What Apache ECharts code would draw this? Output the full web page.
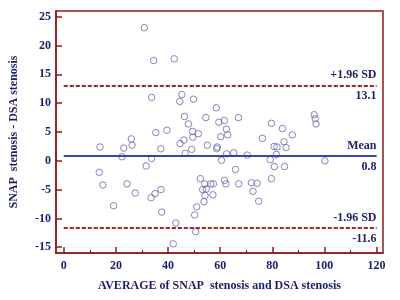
<!DOCTYPE html>
<html>
<head>
<meta charset="utf-8">
<script src="https://cdn.jsdelivr.net/npm/echarts@6/dist/echarts.min.js"></script>
<style>
  html, body { margin: 0; padding: 0; background: #fff; }
  #chart { width: 400px; height: 300px; }
</style>
</head>
<body>
<div id="chart"></div>
<script>
// average of the two methods (x) and their difference (y)
var avgVals = [30.9,34.5,42.4,33.7,45.3,49.8,44.5,58.5,46.3,54.5,67.0,47.8,59.5,61.6,62.4,49.4,51.6,49.5,60.2,62.9,
  39.6,35.3,46.1,44.6,55.1,58.9,58.7,37.2,49.1,46.6,62.5,65.2,70.4,60.5,65.9,25.9,26.2,13.9,23.0,22.3,
  33.7,31.6,13.6,15.0,19.1,24.3,27.4,33.5,35.0,37.3,37.6,43.0,42.0,50.2,50.6,51.0,52.4,54.1,56.4,57.4,
  53.3,54.7,54.2,53.8,57.2,61.7,62.2,67.1,72.0,74.2,72.6,74.8,79.7,96.1,96.5,96.8,79.7,83.9,76.2,87.7,
  84.5,80.7,81.8,85.3,81.6,79.2,100.2,80.8,84.7];
var diffVals = [23.1,17.4,17.7,11.0,11.5,10.7,10.3,9.2,7.7,7.5,7.5,6.4,6.7,7.0,5.5,5.1,4.7,4.1,4.2,4.5,
  5.3,4.9,3.6,3.0,2.7,2.4,2.1,2.1,2.0,1.3,1.2,1.4,1.0,0.1,-1.5,3.8,2.7,2.4,2.2,0.7,
  0.4,-0.9,-2.0,-4.2,-7.8,-4.0,-5.6,-6.4,-5.7,-5.0,-8.9,-10.8,-14.4,-9.4,-12.3,-8.0,-3.1,-4.0,-4.0,-4.0,
  -5.0,-4.9,-6.0,-7.1,-5.9,-3.4,-4.0,-4.0,-3.8,-3.9,-5.3,-7.0,-3.1,8.0,7.3,6.4,6.5,5.6,3.9,4.5,
  3.3,2.5,2.4,2.3,1.1,0.2,0.0,-1.0,-1.0];

// reference lines
var lineNames = ['+1.96 SD', 'Mean', '-1.96 SD'];
var lineValues = [13.1, 0.8, -11.6];

var xTicks = [0, 20, 40, 60, 80, 100, 120];
var xMinorTicks = [10, 30, 50, 70, 90, 110];
var yTicks = [-15, -10, -5, 0, 5, 10, 15, 20, 25];

var navy = '#1b1f6b';
var frame = '#8e1b1b';
var font = '"Liberation Serif", "DejaVu Serif", serif';

var points = [];
for (var i = 0; i < avgVals.length; i++) {
  points.push([avgVals[i], diffVals[i]]);
}

var lineData = [];
for (var k = 0; k < lineValues.length; k++) {
  var isMean = lineNames[k] === 'Mean';
  var ls = isMean ? { color: '#2d3aa6', type: 'solid', width: 1.5 }
                  : { color: '#9a1c1c', type: [4, 2], width: 1.5 };
  lineData.push([
    { coord: [0, lineValues[k]], lineStyle: ls,
      label: { show: true, position: 'insideEndTop', formatter: lineNames[k], distance: [0, 4] } },
    { coord: [120, lineValues[k]] }
  ]);
  lineData.push([
    { coord: [0, lineValues[k]], lineStyle: ls,
      label: { show: true, position: 'insideEndBottom', formatter: String(lineValues[k]), distance: [0, 5] } },
    { coord: [120, lineValues[k]] }
  ]);
}

var myChart = echarts.init(document.getElementById('chart'));

var option = {
  animation: false,
  grid: {
    left: 55, top: 11, right: 17, bottom: 47,
    show: true, borderColor: frame, borderWidth: 1.5, backgroundColor: 'transparent'
  },
  xAxis: [
    {
      type: 'value', min: -3, max: 122.5,
      name: 'AVERAGE of SNAP  stenosis and DSA stenosis',
      nameLocation: 'middle', nameGap: 27,
      nameTextStyle: { color: navy, fontFamily: font, fontWeight: 'bold', fontSize: 12 },
      axisLine: { show: true, onZero: false, lineStyle: { color: frame, width: 1.5 } },
      axisTick: { show: true, inside: true, length: 6, customValues: xTicks, lineStyle: { color: frame, width: 1.5 } },
      axisLabel: { customValues: xTicks, color: navy, fontFamily: font, fontWeight: 'bold', fontSize: 12, margin: 7 },
      splitLine: { show: false }
    },
    {
      type: 'value', min: -3, max: 122.5, position: 'bottom',
      axisLine: { show: false, onZero: false },
      axisTick: { show: true, inside: true, length: 3, customValues: xMinorTicks, lineStyle: { color: frame, width: 1.2 } },
      axisLabel: { show: false },
      splitLine: { show: false }
    }
  ],
  yAxis: {
    type: 'value', min: -16, max: 26,
    name: 'SNAP  stenosis - DSA stenosis',
    nameLocation: 'middle', nameGap: 36,
    nameTextStyle: { color: navy, fontFamily: font, fontWeight: 'bold', fontSize: 12 },
    axisLine: { show: true, onZero: false, lineStyle: { color: frame, width: 1.5 } },
    axisTick: { show: true, inside: true, length: 6, customValues: yTicks, lineStyle: { color: frame, width: 1.5 } },
    axisLabel: { customValues: yTicks, color: navy, fontFamily: font, fontWeight: 'bold', fontSize: 12, margin: 5 },
    splitLine: { show: false }
  },
  series: [
    {
      type: 'scatter',
      data: points,
      symbol: 'circle',
      symbolSize: 6.5,
      itemStyle: { color: 'rgba(255,255,255,0)', borderColor: '#6567a9', borderWidth: 1 },
      markLine: {
        silent: true,
        symbol: ['none', 'none'],
        animation: false,
        label: { color: navy, fontFamily: font, fontWeight: 'bold', fontSize: 12 },
        data: lineData
      },
      z: 3
    }
  ]
};

myChart.setOption(option);
</script>
</body>
</html>
